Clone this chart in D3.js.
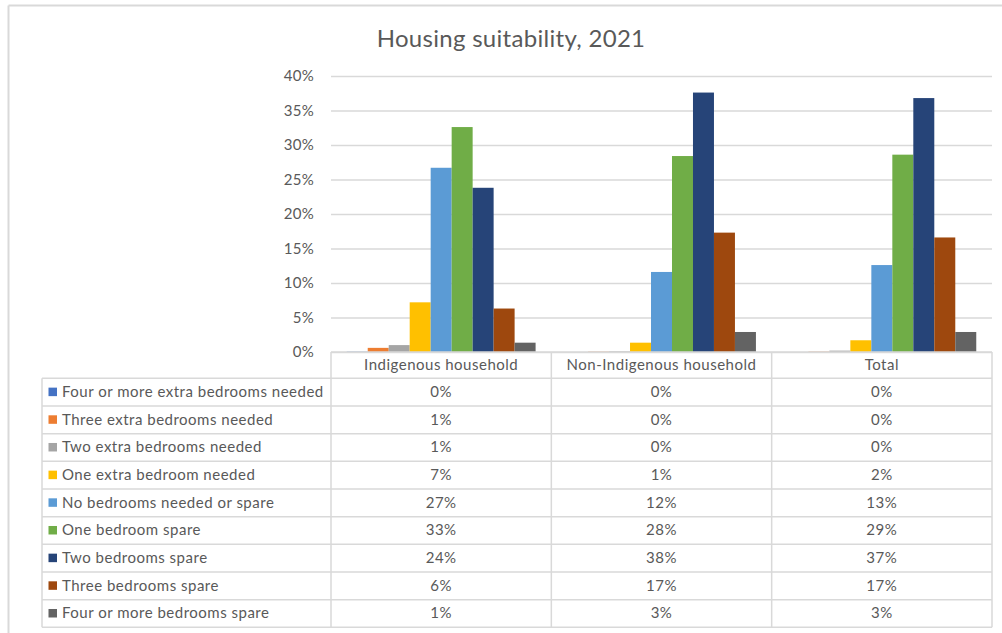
<!DOCTYPE html>
<html>
	<head>
		<meta charset="utf-8">
		<script src="https://cdn.jsdelivr.net/npm/d3@7"></script>
		<style>
			body { margin: 0; background: #fff; }
			text { font-family: Lato, "DejaVu Sans", sans-serif; fill: #595959; }
			.tt { font-size: 15px; letter-spacing: 0.5px; }
		</style>
	</head>
	<body>
		<script>
			// chart data
			var categories = ["Indigenous household", "Non-Indigenous household", "Total"];
			var seriesNames = [
				"Four or more extra bedrooms needed",
				"Three extra bedrooms needed",
				"Two extra bedrooms needed",
				"One extra bedroom needed",
				"No bedrooms needed or spare",
				"One bedroom spare",
				"Two bedrooms spare",
				"Three bedrooms spare",
				"Four or more bedrooms spare"
			];
			var seriesColors = ["#4472C4", "#ED7D31", "#A5A5A5", "#FFC000", "#5B9BD5", "#70AD47", "#264478", "#9E480E", "#636363"];
			// percent values, one list per category, in series order
			var indigenous = [0.05, 0.6, 1.0, 7.2, 26.7, 32.6, 23.8, 6.3, 1.35];
			var nonIndigenous = [0.0, 0.05, 0.1, 1.35, 11.6, 28.4, 37.6, 17.3, 2.9];
			var total = [0.0, 0.05, 0.2, 1.7, 12.6, 28.6, 36.8, 16.6, 2.9];
			var yTicks = [0, 5, 10, 15, 20, 25, 30, 35, 40];

			var values = [indigenous, nonIndigenous, total];
			var W = 1002, H = 633;
			var grid = "#d9d9d9";

			var svg = d3.select("body").append("svg")
				.attr("width", W)
				.attr("height", H);

			// outer frame (only top and left visible)
			svg.append("line").attr("x1", 8.5).attr("x2", W).attr("y1", 5.5).attr("y2", 5.5)
				.attr("stroke", grid).attr("stroke-width", 2);
			svg.append("line").attr("x1", 8.5).attr("x2", 8.5).attr("y1", 5.5).attr("y2", H)
				.attr("stroke", grid).attr("stroke-width", 2);

			svg.append("text")
				.attr("x", 511).attr("y", 47)
				.attr("text-anchor", "middle")
				.style("font-size", "24px")
				.style("letter-spacing", "0.3px")
				.text("Housing suitability, 2021");

			var plotLeft = 331, plotRight = 992, plotTop = 76, plotBottom = 352;
			var tableLeft = 42, rowH = 27.67, headerBottom = 378.3;

			var y = d3.scaleLinear().domain([0, 40]).range([plotBottom, plotTop]);
			var x0 = d3.scaleBand().domain(categories).range([plotLeft, plotRight]);
			var x1 = d3.scaleBand().domain(seriesNames).range([0, x0.bandwidth()])
				.paddingInner(0).paddingOuter(0.75);

			// gridlines + y labels
			var yAxis = d3.axisLeft(y).tickValues(yTicks)
				.tickFormat(function(d) { return d + "%"; })
				.tickSize(-(plotRight - plotLeft)).tickPadding(17);
			var ga = svg.append("g").attr("transform", "translate(" + plotLeft + ",0)").call(yAxis);
			ga.select(".domain").remove();
			ga.selectAll(".tick line").attr("stroke", grid).attr("stroke-width", 1.3);
			ga.selectAll(".tick text").style("font-size", "15px").attr("fill", "#595959")
				.style("font-family", "Lato, sans-serif").style("letter-spacing", "0.3px");

			// bars
			var groups = svg.selectAll("g.cat").data(categories).enter().append("g")
				.attr("class", "cat")
				.attr("transform", function(d) { return "translate(" + x0(d) + ",0)"; });
			groups.selectAll("rect").data(function(d, i) {
					return values[i].map(function(v, j) { return { s: seriesNames[j], v: v, c: seriesColors[j] }; });
				})
				.enter().append("rect")
				.attr("x", function(d) { return x1(d.s); })
				.attr("width", x1.bandwidth())
				.attr("y", function(d) { return y(d.v); })
				.attr("height", function(d) { return plotBottom - y(d.v); })
				.attr("fill", function(d) { return d.c; });

			// data table
			var tbl = svg.append("g");
			var tableBottom = headerBottom + rowH * seriesNames.length;
			// horizontal lines
			tbl.append("line").attr("x1", plotLeft).attr("x2", plotRight)
				.attr("y1", plotBottom).attr("y2", plotBottom);
			d3.range(seriesNames.length + 1).forEach(function(i) {
				tbl.append("line").attr("x1", tableLeft).attr("x2", plotRight)
					.attr("y1", headerBottom + i * rowH).attr("y2", headerBottom + i * rowH);
			});
			// vertical lines
			tbl.append("line").attr("x1", tableLeft).attr("x2", tableLeft)
				.attr("y1", headerBottom).attr("y2", tableBottom);
			categories.forEach(function(c) {
				tbl.append("line").attr("x1", x0(c)).attr("x2", x0(c))
					.attr("y1", plotBottom).attr("y2", tableBottom);
			});
			tbl.append("line").attr("x1", plotRight).attr("x2", plotRight)
				.attr("y1", plotBottom).attr("y2", tableBottom);
			tbl.selectAll("line").attr("stroke", grid).attr("stroke-width", 1.5);

			// header labels
			tbl.selectAll("text.hdr").data(categories).enter().append("text")
				.attr("class", "hdr tt")
				.attr("x", function(d) { return x0(d) + x0.bandwidth() / 2; })
				.attr("y", (plotBottom + headerBottom) / 2 + 5)
				.attr("text-anchor", "middle")
				.text(function(d) { return d; });

			var fmt = d3.format(".0f");
			seriesNames.forEach(function(s, j) {
				var cy = headerBottom + j * rowH + rowH / 2;
				tbl.append("rect")
					.attr("x", 48.5).attr("y", cy - 4.5)
					.attr("width", 8.5).attr("height", 8.5)
					.attr("fill", seriesColors[j]);
				tbl.append("text")
					.attr("class", "tt")
					.attr("x", 62).attr("y", cy + 5)
					.text(s);
				categories.forEach(function(c, i) {
					tbl.append("text")
						.attr("class", "tt")
						.attr("x", x0(c) + x0.bandwidth() / 2)
						.attr("y", cy + 5)
						.attr("text-anchor", "middle")
						.text(fmt(values[i][j]) + "%");
				});
			});
		</script>
	</body>
</html>
